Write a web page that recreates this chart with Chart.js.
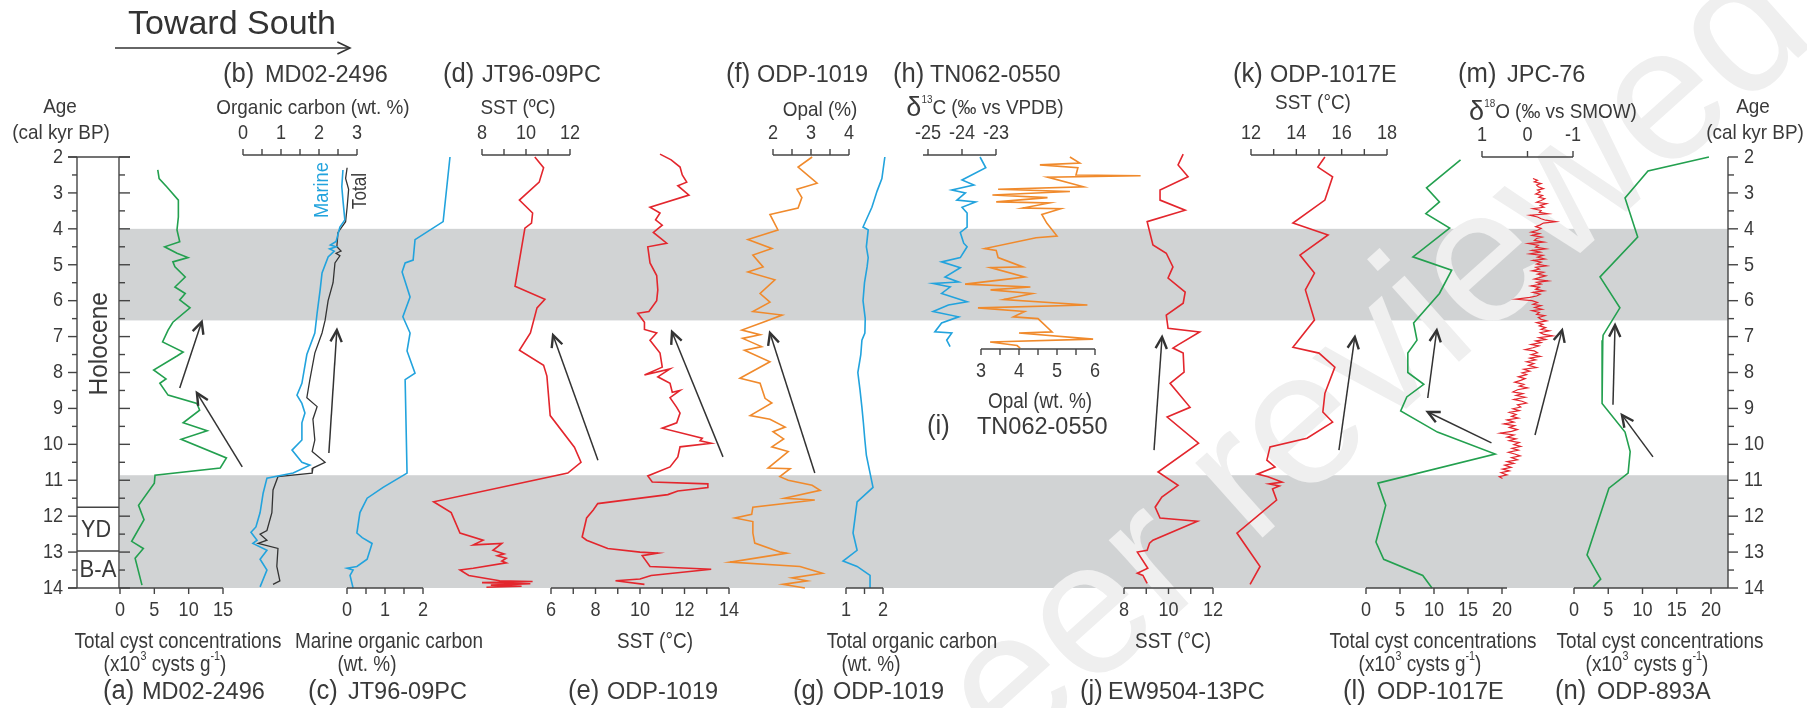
<!DOCTYPE html>
<html>
<head>
<meta charset="utf-8">
<script src="https://cdn.jsdelivr.net/npm/chart.js@4.4.0/dist/chart.umd.min.js"></script>
<style>
html, body { margin: 0; padding: 0; background: #fff; }
#wrap { width: 1807px; height: 708px; }
</style>
</head>
<body>
<div id="wrap"><canvas id="fig" width="1807" height="708"></canvas></div>
<script>
// ---- data: [value, age (cal kyr BP)] ----
const cystA = [[5.5,2.36],[5.7,2.6],[6.8,2.83],[8.5,3.2],[8.5,3.67],[8.3,4.03],[8.7,4.36],[6.5,4.5],[8.3,4.68],[9.9,4.8],[7.7,4.92],[8.0,5.06],[9.5,5.34],[8.0,5.62],[9.5,5.8],[8.7,5.98],[10.2,6.2],[7.7,6.6],[7.0,6.82],[6.2,7.15],[9.2,7.43],[8.3,7.54],[4.9,7.93],[6.7,8.18],[5.8,8.3],[7.0,8.63],[11.2,8.86],[11.6,9.05],[9.2,9.4],[12.7,9.62],[8.9,9.86],[15.5,10.38],[14.6,10.66],[5.1,10.86],[5.0,11.08],[2.7,11.7],[3.5,12.1],[1.7,12.7],[3.4,12.9],[2.2,13.17],[3.2,13.92]];
const marineB = [[2.63,2.36],[2.6,2.83],[2.63,3.2],[2.68,3.75],[2.55,3.95],[2.45,4.35],[2.3,4.45],[2.45,4.5],[2.28,4.56],[2.4,4.62],[2.24,4.78],[2.08,5.23],[2.03,5.7],[1.95,6.35],[1.89,6.9],[1.68,7.5],[1.55,8.3],[1.42,8.63],[1.55,8.86],[1.63,9.13],[1.55,9.4],[1.55,9.88],[1.29,10.16],[1.55,10.5],[1.76,10.58],[1.32,10.8],[0.63,10.94],[0.53,11.36],[0.45,11.9],[0.34,12.3],[0.21,12.45],[0.37,12.67],[0.26,12.76],[0.63,12.95],[0.45,13.2],[0.63,13.5],[0.45,13.97]];
const totalB = [[2.74,2.3],[2.7,2.6],[2.78,2.9],[2.74,3.4],[2.7,3.8],[2.5,4.1],[2.47,4.5],[2.58,4.62],[2.45,4.68],[2.55,4.75],[2.42,4.95],[2.37,5.5],[2.24,6.0],[2.16,6.55],[2.08,6.9],[1.89,7.46],[1.76,8.2],[1.68,8.7],[1.95,8.95],[1.84,9.3],[1.89,9.88],[1.82,10.2],[2.16,10.5],[1.84,10.66],[1.82,10.8],[0.92,10.9],[0.79,11.27],[0.76,11.9],[0.63,12.4],[0.45,12.5],[0.63,12.67],[0.4,12.76],[0.92,12.9],[0.89,13.4],[0.97,13.8],[0.79,13.9]];
const marineC = [[2.71,2.0],[2.53,3.8],[1.79,4.3],[1.74,4.87],[1.53,4.95],[1.45,5.2],[1.66,5.9],[1.47,6.45],[1.66,6.9],[1.58,7.4],[1.79,8.02],[1.53,8.2],[1.58,10.8],[0.95,11.2],[0.53,11.5],[0.34,11.9],[0.26,12.47],[0.4,12.6],[0.66,12.76],[0.53,13.2],[0.26,13.4],[0.0,13.45],[0.16,13.5],[0.08,13.65],[0.16,14.0]];
const sstD = [[10.4,2.0],[10.8,2.3],[10.6,2.7],[9.7,3.2],[10.3,3.56],[10.25,3.84],[9.95,3.98],[9.5,5.6],[10.86,5.96],[10.5,6.2],[10.2,6.9],[9.7,7.38],[10.8,7.8],[10.95,8.1],[11.1,9.2],[12.2,10.08],[12.5,10.5],[11.9,10.8],[5.8,11.6],[6.6,11.9],[7.0,12.47],[8.05,12.67],[7.6,12.8],[8.9,12.76],[8.5,12.95],[9.0,13.05],[8.7,13.1],[9.1,13.17],[8.9,13.25],[9.1,13.3],[7.6,13.45],[7.0,13.5],[7.4,13.65],[8.8,13.8],[10.3,13.82],[8.0,13.85],[10.2,13.88],[8.4,13.92],[9.8,13.95],[8.2,13.98]];
const sstE = [[10.9,1.92],[11.4,2.08],[11.8,2.28],[11.9,2.5],[12.1,2.7],[11.7,2.8],[12.2,3.06],[10.45,3.4],[10.9,3.56],[10.7,3.75],[11.0,3.9],[10.6,4.1],[11.2,4.4],[10.35,4.5],[10.45,4.95],[10.75,5.3],[10.8,5.7],[10.75,6.0],[10.4,6.3],[9.9,6.35],[10.2,6.6],[10.2,6.8],[10.75,6.9],[10.45,7.1],[10.9,7.46],[11.0,7.85],[10.2,8.07],[11.35,7.9],[10.8,8.12],[11.35,8.3],[11.45,8.55],[11.8,8.5],[11.35,8.7],[11.65,8.97],[11.8,9.13],[11.65,9.4],[11.0,9.55],[12.8,9.83],[12.7,9.9],[13.2,9.97],[11.8,10.07],[11.7,10.35],[11.35,10.63],[10.35,10.88],[10.55,11.05],[13.05,11.1],[13.05,11.2],[11.7,11.3],[11.25,11.4],[8.1,11.65],[7.9,11.83],[7.6,12.05],[7.4,12.58],[7.6,12.67],[8.55,12.9],[10.0,13.0],[10.8,13.03],[10.1,13.1],[10.45,13.4],[13.2,13.48],[10.5,13.65],[10.0,13.75],[8.9,13.8],[10.2,13.9]];
const opalF = [[3.03,2.0],[2.66,2.28],[3.16,2.73],[2.63,2.9],[2.76,3.13],[2.66,3.42],[1.92,3.6],[2.13,4.03],[1.34,4.3],[1.97,4.55],[1.47,4.73],[1.74,5.06],[1.34,5.2],[2.05,5.42],[1.66,5.8],[1.92,6.04],[1.47,6.3],[2.24,6.4],[1.74,6.6],[1.18,6.82],[1.66,6.95],[1.2,7.05],[1.7,7.28],[1.25,7.38],[1.92,7.7],[1.13,8.16],[1.66,8.3],[1.79,8.72],[1.97,8.85],[1.4,9.2],[1.92,9.3],[2.32,9.52],[2.0,9.65],[2.28,9.85],[1.97,10.07],[2.4,10.2],[1.87,10.66],[2.45,10.68],[2.18,10.9],[2.4,11.0],[3.03,11.14],[3.24,11.28],[2.3,11.5],[3.1,11.55],[1.47,11.75],[1.44,11.95],[1.0,12.05],[1.47,12.15],[1.47,12.47],[1.52,12.75],[2.18,13.0],[2.36,13.03],[0.87,13.28],[2.71,13.4],[3.3,13.59],[2.5,13.72],[2.9,13.8],[2.26,13.9],[2.84,14.0]];
const tocG = [[2.05,2.0],[1.97,2.6],[1.84,2.95],[1.7,3.4],[1.46,3.95],[1.6,4.03],[1.55,4.5],[1.6,4.8],[1.57,5.06],[1.5,5.5],[1.46,6.0],[1.52,6.5],[1.51,6.9],[1.43,7.1],[1.4,7.5],[1.32,8.0],[1.38,8.5],[1.43,8.97],[1.47,9.4],[1.51,9.88],[1.55,10.3],[1.65,10.8],[1.73,11.2],[1.3,11.6],[1.25,12.0],[1.19,12.47],[1.3,12.95],[0.92,13.25],[1.3,13.4],[1.65,13.65],[1.65,14.0]];
const d13cH = [[-23.47,2.0],[-23.3,2.3],[-24.0,2.64],[-23.65,2.78],[-24.3,2.92],[-23.9,3.0],[-24.15,3.2],[-23.6,3.25],[-24.0,3.4],[-23.85,3.56],[-23.85,3.95],[-24.05,4.1],[-23.95,4.4],[-23.85,4.5],[-24.05,4.8],[-24.6,4.92],[-24.05,5.08],[-24.5,5.34],[-24.1,5.48],[-24.85,5.52],[-24.35,5.62],[-24.6,5.8],[-23.85,6.03],[-24.4,6.12],[-24.85,6.3],[-24.1,6.45],[-24.6,6.62],[-24.8,6.87],[-24.3,6.9],[-24.45,7.1],[-24.35,7.28]];
const opalI = [[5.34,2.0],[5.6,2.17],[4.55,2.22],[5.55,2.3],[5.5,2.5],[7.2,2.52],[4.75,2.56],[5.7,2.83],[3.45,2.9],[5.34,2.96],[3.3,3.06],[4.75,3.13],[3.4,3.25],[4.8,3.28],[4.1,3.42],[5.1,3.44],[4.6,3.6],[4.73,3.84],[5.0,4.2],[4.45,4.25],[3.1,4.55],[3.4,4.6],[3.45,4.8],[4.1,5.06],[3.25,5.08],[4.15,5.34],[3.7,5.4],[2.58,5.54],[4.3,5.62],[3.25,5.7],[4.35,5.8],[3.6,5.97],[5.8,6.12],[2.92,6.2],[4.15,6.3],[3.85,6.45],[4.5,6.5],[4.87,6.87],[4.0,6.9],[5.95,7.07],[3.24,7.15],[3.95,7.25],[4.03,7.32]];
const sstJ = [[10.66,1.92],[10.43,2.22],[10.88,2.55],[9.62,2.92],[9.62,3.2],[10.75,3.48],[9.04,3.8],[9.3,4.45],[9.9,4.68],[10.2,5.06],[9.98,5.37],[10.75,5.76],[10.66,6.07],[9.9,6.4],[9.98,6.77],[11.4,6.87],[10.43,7.23],[10.2,7.32],[10.66,7.46],[10.7,7.99],[10.07,8.3],[10.97,8.97],[9.94,9.24],[11.35,9.97],[9.53,10.77],[10.43,11.14],[9.7,11.47],[9.4,11.75],[9.62,12.05],[11.3,12.14],[9.3,12.67],[9.15,12.75],[9.04,12.95],[8.6,13.0],[9.07,13.45],[8.6,13.59],[8.85,13.65],[9.04,13.87]];
const sstK = [[15.26,2.0],[14.95,2.28],[15.6,2.55],[15.26,3.2],[13.85,3.84],[15.4,4.17],[14.16,4.73],[14.8,5.23],[14.4,5.7],[14.8,6.54],[13.85,7.3],[15.0,7.46],[15.7,7.85],[15.26,8.58],[15.17,9.1],[15.6,9.38],[14.47,9.83],[12.84,10.07],[12.7,10.44],[13.06,10.63],[12.28,10.83],[12.75,10.9],[13.37,11.05],[12.8,11.1],[13.25,11.16],[12.95,11.24],[13.13,11.55],[11.38,12.47],[12.4,13.4],[11.96,13.9]];
const cystL = [[13.9,2.08],[8.9,2.86],[10.8,3.25],[8.8,3.58],[12.3,3.98],[6.9,4.78],[12.6,5.15],[10.8,5.8],[7.0,6.62],[7.5,7.1],[6.15,7.46],[6.15,8.0],[8.5,8.33],[6.0,8.68],[5.1,9.07],[10.5,9.66],[19.0,10.27],[1.75,11.08],[2.9,11.7],[1.46,12.72],[2.6,13.2],[8.35,13.65],[9.7,14.0]];
const d18oM = [[-0.12,2.60],[-0.22,2.65],[-0.15,2.69],[-0.30,2.74],[-0.20,2.78],[-0.24,2.83],[-0.35,2.88],[-0.22,2.92],[-0.28,2.97],[-0.18,3.03],[-0.33,3.07],[-0.25,3.12],[-0.38,3.16],[-0.30,3.21],[-0.20,3.26],[-0.42,3.30],[-0.28,3.35],[-0.36,3.40],[-0.12,3.44],[-0.30,3.49],[-0.26,3.54],[-0.45,3.58],[-0.05,3.62],[-0.22,3.67],[-0.30,3.72],[-0.40,3.76],[-0.62,3.80],[-0.35,3.84],[-0.28,3.89],[-0.18,3.94],[-0.30,3.99],[-0.22,4.04],[-0.08,4.09],[-0.26,4.13],[-0.10,4.18],[-0.32,4.23],[-0.20,4.27],[-0.15,4.32],[-0.36,4.37],[-0.02,4.41],[-0.24,4.46],[-0.18,4.51],[-0.40,4.56],[-0.10,4.60],[-0.28,4.65],[-0.05,4.70],[-0.34,4.74],[-0.22,4.79],[-0.38,4.84],[-0.12,4.88],[-0.30,4.93],[-0.20,4.98],[-0.42,5.03],[-0.18,5.07],[-0.26,5.12],[-0.10,5.17],[-0.35,5.21],[-0.22,5.26],[-0.40,5.31],[-0.28,5.35],[-0.15,5.40],[-0.45,5.45],[-0.20,5.49],[-0.30,5.54],[-0.08,5.59],[-0.26,5.63],[-0.18,5.68],[-0.36,5.73],[-0.12,5.77],[-0.28,5.82],[-0.20,5.87],[-0.05,5.91],[0.25,5.96],[-0.10,6.00],[-0.22,6.05],[-0.12,6.10],[-0.30,6.14],[-0.16,6.19],[-0.32,6.24],[-0.10,6.28],[-0.26,6.33],[-0.20,6.38],[-0.38,6.42],[-0.24,6.47],[-0.30,6.52],[-0.42,6.56],[-0.20,6.61],[-0.34,6.66],[-0.26,6.70],[-0.40,6.75],[-0.30,6.80],[-0.48,6.84],[-0.28,6.89],[-0.36,6.94],[-0.55,6.98],[-0.25,7.03],[-0.40,7.08],[-0.18,7.12],[-0.30,7.17],[-0.08,7.22],[-0.25,7.26],[-0.12,7.31],[0.05,7.36],[-0.15,7.40],[-0.22,7.45],[-0.08,7.50],[-0.28,7.55],[-0.05,7.60],[-0.18,7.65],[0.02,7.70],[-0.14,7.75],[-0.02,7.80],[-0.20,7.86],[0.08,7.91],[-0.05,7.96],[0.12,8.01],[0.02,8.06],[0.20,8.12],[0.05,8.17],[0.15,8.22],[0.28,8.27],[0.08,8.33],[0.18,8.38],[0.00,8.43],[0.22,8.48],[0.32,8.54],[0.10,8.59],[0.25,8.64],[0.05,8.69],[0.30,8.75],[0.12,8.80],[0.02,8.85],[0.22,8.90],[0.15,8.96],[0.32,9.01],[0.18,9.06],[0.40,9.11],[0.25,9.17],[0.35,9.22],[0.20,9.27],[0.45,9.32],[0.30,9.38],[0.52,9.43],[0.28,9.48],[0.40,9.53],[0.22,9.59],[0.35,9.64],[0.60,9.69],[0.30,9.74],[0.45,9.80],[0.25,9.85],[0.40,9.90],[0.18,9.95],[0.30,10.01],[0.15,10.06],[0.34,10.11],[0.20,10.16],[0.42,10.22],[0.28,10.27],[0.16,10.32],[0.35,10.37],[0.22,10.43],[0.45,10.48],[0.30,10.53],[0.50,10.58],[0.36,10.64],[0.55,10.69],[0.40,10.74],[0.58,10.79],[0.45,10.85],[0.62,10.90],[0.55,10.95]];
const cystN = [[19.7,2.0],[10.8,2.39],[7.45,3.14],[9.3,4.23],[3.8,5.34],[6.7,6.2],[4.25,6.96],[4.2,7.1],[4.1,8.86],[7.45,9.66],[8.2,10.2],[7.9,10.8],[5.1,11.22],[2.6,12.67],[1.9,13.08],[3.9,13.75],[2.8,13.97]];

// ---- tick values / labels ----
const ageTicks = [2,3,4,5,6,7,8,9,10,11,12,13,14];
const ticksA = [0,5,10,15], labelsA = [0,5,10,15];
const ticksB = [0,0.5,1,1.5,2,2.5,3], labelsB = [0,1,2,3];
const ticksC = [0,0.5,1,1.5,2], labelsC = [0,1,2];
const ticksD = [8,9,10,11,12], labelsD = [8,10,12];
const ticksE = [6,7,8,9,10,11,12,13,14], labelsE = [6,8,10,12,14];
const ticksF = [2,2.5,3,3.5,4], labelsF = [2,3,4];
const ticksG = [1,1.5,2], labelsG = [1,2];
const ticksH = [-25,-24,-23], labelsH = [-25,-24,-23];
const ticksI = [3,3.5,4,4.5,5,5.5,6], labelsI = [3,4,5,6];
const ticksJ = [8,9,10,11,12], labelsJ = [8,10,12];
const ticksK = [12,13,14,15,16,17,18], labelsK = [12,14,16,18];
const ticksL = [0,5,10,15,20], labelsL = [0,5,10,15,20];
const ticksM = [1,0,-1], labelsM = [1,0,-1];
const ticksN = [0,5,10,15,20], labelsN = [0,5,10,15,20];

// intervals shaded, stratigraphic units
const bands = [[4.0,6.55],[10.86,14.0]];
const unitBounds = [11.75,12.97];

// arrows: [value, age] from -> to, on a panel axis
const arrows = [
  ['xa',[8.7,8.43],[11.9,6.59]], ['xa',[17.8,10.63],[11.2,8.57]],
  ['xb',[2.26,10.24],[2.47,6.82]], ['xd',[13.27,10.44],[11.23,6.96]],
  ['xe',[13.73,10.35],[11.44,6.87]], ['xf',[3.1,10.8],[1.92,6.9]],
  ['xj',[9.35,10.16],[9.71,7.01]], ['xk',[15.88,10.16],[16.58,7.01]],
  ['xl',[9.08,8.71],[10.4,6.82]], ['xl',[18.45,9.96],[9.08,9.1]],
  ['xm',[-0.165,9.74],[-0.76,6.82]], ['xn',[5.69,8.9],[5.99,6.68]],
  ['xn',[11.53,10.35],[7.0,9.18]]
];

// ---- layout ----
const W = 1807, H = 708;
const FONT = '"Liberation Sans", Arial, Helvetica, sans-serif';
const INK = '#3a3a3a';
const GREEN = '#23a04f', BLUE = '#22a3dd', RED = '#e3262d', ORANGE = '#f08a2c', BLACK = '#333';
const TOP_Y = 155, BOT_Y = 588;

const panels = [
  {id:'xa', v:[0,120,15,223], side:BOT_Y, dir:1, ticks:ticksA, labels:labelsA, from:68},
  {id:'xb', v:[0,243,3,357], side:TOP_Y, dir:-1, ticks:ticksB, labels:labelsB},
  {id:'xc', v:[0,347,2,423], side:BOT_Y, dir:1, ticks:ticksC, labels:labelsC},
  {id:'xd', v:[8,482,12,570], side:TOP_Y, dir:-1, ticks:ticksD, labels:labelsD},
  {id:'xe', v:[6,551,14,729], side:BOT_Y, dir:1, ticks:ticksE, labels:labelsE},
  {id:'xf', v:[2,773,4,849], side:TOP_Y, dir:-1, ticks:ticksF, labels:labelsF},
  {id:'xg', v:[1,846,2,883], side:BOT_Y, dir:1, ticks:ticksG, labels:labelsG},
  {id:'xh', v:[-25,928,-23,996], side:TOP_Y, dir:-1, ticks:ticksH, labels:labelsH, from:923},
  {id:'xi', v:[3,981,6,1095], side:349, dir:1, ticks:ticksI, labels:labelsI},
  {id:'xj', v:[8,1124,12,1213], side:BOT_Y, dir:1, ticks:ticksJ, labels:labelsJ},
  {id:'xk', v:[12,1251,18,1387], side:TOP_Y, dir:-1, ticks:ticksK, labels:labelsK},
  {id:'xl', v:[0,1366,20,1502], side:BOT_Y, dir:1, ticks:ticksL, labels:labelsL, to:1507},
  {id:'xm', v:[1,1482,-1,1573], side:TOP_Y+2, dir:-1, ticks:ticksM, labels:labelsM},
  {id:'xn', v:[0,1574,20,1711], side:BOT_Y, dir:1, ticks:ticksN, labels:labelsN, to:1728}
];

function mapScale(v0, p0, v1, p1) {
  const m = (p1 - p0) / (v1 - v0);
  if (m > 0) return { min: v0 - p0 / m, max: v0 + (W - p0) / m, reverse: false };
  const k = -m, min = v0 - (W - p0) / k;
  return { min: min, max: min + W / k, reverse: true };
}

function text(ctx, s, x, y, size, sx, align, color, rot) {
  ctx.save();
  ctx.translate(x, y);
  if (rot) ctx.rotate(rot);
  ctx.scale(sx, 1);
  ctx.font = size + 'px ' + FONT;
  ctx.fillStyle = color || INK;
  ctx.textAlign = align || 'center';
  ctx.textBaseline = 'middle';
  ctx.fillText(s, 0, 0);
  ctx.restore();
}

// parts: [text, size, scaleX, dy]
function rich(ctx, parts, x, y, align) {
  let total = 0;
  const ws = parts.map(p => {
    ctx.font = p[1] + 'px ' + FONT;
    const w = ctx.measureText(p[0]).width * p[2];
    total += w;
    return w;
  });
  let cx = align === 'left' ? x : x - total / 2;
  parts.forEach((p, i) => {
    ctx.save();
    ctx.translate(cx, y + (p[3] || 0));
    ctx.scale(p[2], 1);
    ctx.font = p[1] + 'px ' + FONT;
    ctx.fillStyle = INK;
    ctx.textAlign = 'left';
    ctx.textBaseline = 'middle';
    ctx.fillText(p[0], 0, 0);
    ctx.restore();
    cx += ws[i];
  });
}

function line(ctx, x1, y1, x2, y2) {
  ctx.beginPath(); ctx.moveTo(x1, y1); ctx.lineTo(x2, y2); ctx.stroke();
}

function arrowHead(ctx, x1, y1, x2, y2, len) {
  const a = Math.atan2(y2 - y1, x2 - x1);
  ctx.beginPath();
  ctx.moveTo(x2 - len * Math.cos(a - 0.45), y2 - len * Math.sin(a - 0.45));
  ctx.lineTo(x2, y2);
  ctx.lineTo(x2 - len * Math.cos(a + 0.45), y2 - len * Math.sin(a + 0.45));
  ctx.stroke();
}

const cystUnit = [['(x10', 22, 0.86], ['3', 12, 0.9, -8], [' cysts g', 22, 0.86], ['-1', 12, 0.9, -8], [')', 22, 0.86]];

const figPlugin = {
  id: 'fig',
  beforeDatasetsDraw(chart) {
    const ctx = chart.ctx, age = chart.scales.age;
    ctx.save();
    ctx.fillStyle = '#d1d3d4';
    bands.forEach(b => {
      const t = age.getPixelForValue(b[0]), bt = age.getPixelForValue(b[1]);
      ctx.fillRect(120, t, 1728 - 120, bt - t);
    });
    // watermark
    ctx.translate(930, 835);
    ctx.rotate(-0.73);
    ctx.font = '190px ' + FONT;
    ctx.fillStyle = '#efefef';
    ctx.fillText('peer reviewed', 0, 0);
    ctx.restore();
  },
  afterDatasetsDraw(chart) {
    const ctx = chart.ctx, age = chart.scales.age;
    const yA = v => age.getPixelForValue(v);
    ctx.save();
    ctx.strokeStyle = '#444';
    ctx.lineWidth = 1.4;

    // left age axis with unit column
    const yTop = yA(2), yBot = yA(14);
    line(ctx, 77, yTop, 77, yBot);
    line(ctx, 119, yTop, 119, yBot);
    line(ctx, 68, yTop, 130, yTop);
    unitBounds.forEach(u => line(ctx, 77, yA(u), 119, yA(u)));
    ageTicks.forEach(t => {
      line(ctx, 68, yA(t), 77, yA(t));
      line(ctx, 119, yA(t), 130, yA(t));
      text(ctx, String(t), 63, yA(t), 21, 0.86, 'right');
      if (t < 14) {
        line(ctx, 72, yA(t + 0.5), 77, yA(t + 0.5));
        line(ctx, 119, yA(t + 0.5), 125, yA(t + 0.5));
      }
    });
    text(ctx, 'Holocene', 100, yA(7.2), 25, 0.98, 'center', INK, -Math.PI / 2);
    text(ctx, 'YD', 96, yA((unitBounds[0] + unitBounds[1]) / 2) + 1, 24, 0.9);
    text(ctx, 'B-A', 98, yA((unitBounds[1] + 14) / 2) + 1, 24, 0.92);
    text(ctx, 'Age', 60, 107, 21, 0.9);
    text(ctx, '(cal kyr BP)', 61, 133, 21, 0.9);

    // right age axis
    line(ctx, 1728, yTop, 1728, yBot);
    ageTicks.forEach(t => {
      line(ctx, 1728, yA(t), 1738, yA(t));
      if (t < 14) line(ctx, 1728, yA(t + 0.5), 1734, yA(t + 0.5));
      text(ctx, String(t), 1744, yA(t), 21, 0.86, 'left');
    });
    text(ctx, 'Age', 1753, 107, 21, 0.9);
    text(ctx, '(cal kyr BP)', 1755, 133, 21, 0.9);

    // panel axes
    panels.forEach(p => {
      const sc = chart.scales[p.id];
      const xs = p.ticks.map(v => sc.getPixelForValue(v));
      const x0 = p.from !== undefined ? p.from : Math.min.apply(null, xs);
      const x1 = p.to !== undefined ? p.to : Math.max.apply(null, xs);
      line(ctx, x0, p.side, x1, p.side);
      xs.forEach(x => line(ctx, x, p.side, x, p.side + p.dir * 6));
      p.labels.forEach(v => text(ctx, String(v), sc.getPixelForValue(v), p.side + p.dir * 22, 21, 0.86));
    });

    // arrows
    ctx.strokeStyle = '#333';
    arrows.forEach(a => {
      const sc = chart.scales[a[0]];
      const x1 = sc.getPixelForValue(a[1][0]), y1 = yA(a[1][1]);
      const x2 = sc.getPixelForValue(a[2][0]), y2 = yA(a[2][1]);
      ctx.lineWidth = 1.5;
      line(ctx, x1, y1, x2, y2);
      ctx.lineWidth = 2.4;
      arrowHead(ctx, x1, y1, x2, y2, 13);
    });

    // heading arrow
    text(ctx, 'Toward South', 128, 25, 34, 1.0, 'left', '#333');
    ctx.lineWidth = 1.6;
    line(ctx, 115, 48, 350, 48);
    arrowHead(ctx, 115, 48, 350, 48, 14);

    // top titles
    const topTitles = [['(b)',223,'MD02-2496',265],['(d)',443,'JT96-09PC',482],['(f)',726,'ODP-1019',757],
      ['(h)',893,'TN062-0550',930],['(k)',1233,'ODP-1017E',1270],['(m)',1458,'JPC-76',1507]];
    topTitles.forEach(t => {
      text(ctx, t[0], t[1], 75, 27, 0.95, 'left');
      text(ctx, t[2], t[3], 76, 23.5, 1.0, 'left');
    });
    text(ctx, 'Organic carbon (wt. %)', 313, 108, 21, 0.9);
    text(ctx, 'SST (\u00baC)', 518, 108, 21, 0.9);
    text(ctx, 'Opal (%)', 820, 110, 21, 0.9);
    rich(ctx, [['\u03b4', 27, 1.0, 1], ['13', 11, 0.9, -8], ['C (\u2030 vs VPDB)', 21, 0.9]], 985, 108);
    text(ctx, 'SST (\u00b0C)', 1313, 103, 21, 0.9);
    rich(ctx, [['\u03b4', 27, 1.0, 1], ['18', 11, 0.9, -8], ['O (\u2030 vs SMOW)', 21, 0.9]], 1553, 112);

    // organic carbon curve labels
    text(ctx, 'Marine', 322, 190, 21, 0.87, 'center', BLUE, -Math.PI / 2);
    text(ctx, 'Total', 360, 191, 20, 0.86, 'center', INK, -Math.PI / 2);

    // panel (i)
    text(ctx, 'Opal (wt. %)', 1040, 402, 22, 0.86);
    text(ctx, '(i)', 927, 427, 27, 0.95, 'left');
    text(ctx, 'TN062-0550', 977, 428, 23.5, 1.0, 'left');

    // bottom labels
    text(ctx, 'Total cyst concentrations', 178, 642, 22, 0.86);
    rich(ctx, cystUnit, 165, 665);
    text(ctx, 'Marine organic carbon', 389, 642, 22, 0.86);
    text(ctx, '(wt. %)', 367, 665, 22, 0.86);
    text(ctx, 'SST (\u00b0C)', 655, 642, 22, 0.86);
    text(ctx, 'Total organic carbon', 912, 642, 22, 0.86);
    text(ctx, '(wt. %)', 871, 665, 22, 0.86);
    text(ctx, 'SST (\u00b0C)', 1173, 642, 22, 0.86);
    text(ctx, 'Total cyst concentrations', 1433, 642, 22, 0.86);
    rich(ctx, cystUnit, 1420, 665);
    text(ctx, 'Total cyst concentrations', 1660, 642, 22, 0.86);
    rich(ctx, cystUnit, 1647, 665);
    const botTitles = [['(a)',103,'MD02-2496',142],['(c)',308,'JT96-09PC',348],['(e)',568,'ODP-1019',607],
      ['(g)',793,'ODP-1019',833],['(j)',1080,'EW9504-13PC',1108],['(l)',1343,'ODP-1017E',1377],['(n)',1555,'ODP-893A',1597]];
    botTitles.forEach(t => {
      text(ctx, t[0], t[1], 692, 27, 0.95, 'left');
      text(ctx, t[2], t[3], 693, 23.5, 1.0, 'left');
    });
    ctx.restore();
  }
};

function series(data, axis, color, width) {
  return {
    data: data.map(d => ({ x: d[0], y: d[1] })),
    xAxisID: axis, yAxisID: 'age',
    borderColor: color, borderWidth: width || 1.6,
    pointRadius: 0, fill: false, tension: 0, clip: false
  };
}

const scales = { age: { type: 'linear', axis: 'y', min: 2, max: 14, reverse: true, display: false } };
panels.forEach(p => {
  const m = mapScale(p.v[0], p.v[1], p.v[2], p.v[3]);
  scales[p.id] = { type: 'linear', axis: 'x', position: 'bottom', display: false, min: m.min, max: m.max, reverse: m.reverse };
});

new Chart(document.getElementById('fig'), {
  type: 'line',
  data: {
    datasets: [
      series(cystA, 'xa', GREEN),
      series(marineB, 'xb', BLUE),
      series(totalB, 'xb', BLACK, 1.3),
      series(marineC, 'xc', BLUE),
      series(sstD, 'xd', RED),
      series(sstE, 'xe', RED),
      series(opalF, 'xf', ORANGE),
      series(tocG, 'xg', BLUE),
      series(d13cH, 'xh', BLUE),
      series(opalI, 'xi', ORANGE),
      series(sstJ, 'xj', RED),
      series(sstK, 'xk', RED),
      series(cystL, 'xl', GREEN),
      series(d18oM, 'xm', RED, 1.2),
      series(cystN, 'xn', GREEN)
    ]
  },
  options: {
    responsive: false,
    animation: false,
    devicePixelRatio: 1,
    layout: { padding: { top: 157, bottom: 120, left: 0, right: 0 } },
    scales: scales,
    plugins: { legend: { display: false }, tooltip: { enabled: false } }
  },
  plugins: [figPlugin]
});
</script>
</body>
</html>
